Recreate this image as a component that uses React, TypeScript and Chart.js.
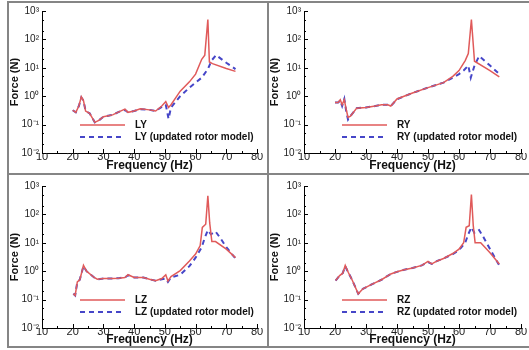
import React, { useEffect, useRef } from "react";
import { Chart, registerables } from "chart.js";

Chart.register(...registerables);

// ---------- data ----------
const LY_FREQ_RED = [20, 21, 22, 22.8, 23.5, 24.2, 25.5, 27.2, 28.5, 30, 33, 35, 37, 38, 40, 42, 45, 47, 49, 50.3, 51.2, 52, 55, 58, 60, 62, 63, 64, 64.5, 65.5, 70, 73];
const LY_RED = [0.32, 0.27, 0.45, 0.95, 0.7, 0.3, 0.25, 0.12, 0.14, 0.19, 0.22, 0.28, 0.35, 0.27, 0.3, 0.36, 0.33, 0.3, 0.45, 0.65, 0.4, 0.5, 1.5, 3.2, 6, 20, 28, 500, 16, 14, 9.5, 7.5];
const LY_FREQ_BLUE = [20, 21, 22, 22.8, 23.5, 24.2, 25.5, 27.2, 28.5, 30, 33, 35, 37, 38, 40, 42, 45, 47, 49, 50.3, 51.2, 52, 55, 58, 60, 62, 64, 65.2, 66.7, 70, 73];
const LY_BLUE = [0.32, 0.27, 0.45, 0.9, 0.7, 0.3, 0.25, 0.12, 0.14, 0.19, 0.22, 0.28, 0.33, 0.27, 0.3, 0.35, 0.33, 0.3, 0.42, 0.5, 0.16, 0.4, 1.0, 2.0, 3.0, 4.5, 9, 18, 28, 15, 9];

const RY_FREQ_RED = [20, 21, 21.7, 22.3, 23, 23.6, 24.2, 25, 27, 30, 33, 35, 37, 38, 40, 45, 50, 55, 58, 60, 62, 63, 64, 65, 70, 73];
const RY_RED = [0.6, 0.6, 0.75, 0.5, 0.75, 0.35, 0.18, 0.2, 0.38, 0.4, 0.45, 0.5, 0.5, 0.45, 0.8, 1.3, 2.0, 3.0, 5.0, 8, 18, 32, 500, 17, 8, 4.8];
const RY_FREQ_BLUE = [20, 21, 21.7, 22.3, 23, 23.6, 24.2, 25, 27, 30, 33, 35, 37, 38, 40, 45, 50, 55, 58, 60, 61.5, 63, 63.8, 65, 66.5, 70, 73];
const RY_BLUE = [0.6, 0.6, 0.7, 0.45, 0.8, 0.3, 0.15, 0.2, 0.38, 0.4, 0.45, 0.5, 0.5, 0.45, 0.78, 1.3, 2.0, 3.0, 4.5, 6, 8, 12, 4.5, 12, 26, 12, 6];

const LZ_FREQ_RED = [20.2, 20.8, 21.5, 22.3, 22.8, 23.5, 24.5, 27, 28, 30, 33, 35, 37, 38, 40, 43, 45, 47, 49, 50.3, 51, 52, 55, 58, 60, 61.5, 62.2, 63.3, 64, 64.6, 65.3, 66.5, 70, 73];
const LZ_RED = [0.16, 0.14, 0.42, 0.5, 0.8, 1.6, 1.0, 0.6, 0.52, 0.55, 0.55, 0.57, 0.6, 0.75, 0.6, 0.6, 0.52, 0.46, 0.55, 0.75, 0.45, 0.65, 1.05, 2.3, 4, 8, 35, 45, 450, 50, 11, 11, 6, 3];
const LZ_FREQ_BLUE = [20.2, 20.8, 21.5, 22.3, 22.8, 23.5, 24.5, 27, 28, 30, 33, 35, 37, 38, 40, 43, 45, 47, 49, 50.3, 51, 52, 55, 58, 60, 62, 63, 64, 65, 66.5, 68, 70, 73];
const LZ_BLUE = [0.16, 0.14, 0.42, 0.5, 0.8, 1.5, 1.0, 0.6, 0.52, 0.55, 0.55, 0.57, 0.6, 0.72, 0.6, 0.6, 0.52, 0.46, 0.52, 0.55, 0.42, 0.6, 0.75, 1.5, 3, 7, 15, 28, 20, 25, 15, 7, 2.8];

const RZ_FREQ_RED = [20.2, 21.5, 22.5, 23.3, 24.3, 25.5, 27.5, 29, 32, 35, 38, 40, 42, 45, 48, 50, 51.2, 53, 55, 58, 60, 61.5, 62.3, 63.3, 64, 64.6, 65.2, 67, 70, 73];
const RZ_RED = [0.47, 0.7, 0.85, 1.6, 0.9, 0.5, 0.16, 0.24, 0.35, 0.5, 0.8, 0.95, 1.1, 1.3, 1.6, 2.2, 1.8, 2.3, 2.8, 4.2, 6, 10, 35, 40, 500, 40, 10, 10, 4.5, 1.8];
const RZ_FREQ_BLUE = [20.2, 21.5, 22.5, 23.3, 24.3, 25.5, 27.5, 29, 32, 35, 38, 40, 42, 45, 48, 50, 51.2, 53, 55, 58, 60, 62, 63, 64, 65, 66.5, 68, 70, 73];
const RZ_BLUE = [0.47, 0.7, 0.85, 1.5, 0.9, 0.5, 0.16, 0.24, 0.35, 0.5, 0.8, 0.95, 1.1, 1.3, 1.6, 2.1, 1.8, 2.3, 2.8, 4.0, 5.5, 10, 20, 35, 22, 28, 15, 6, 1.6];

const Y_TICKS = [0.01, 0.1, 1, 10, 100, 1000];
const Y_TICK_LABELS = ["10\u207B\u00B2", "10\u207B\u00B9", "10\u2070", "10\u00B9", "10\u00B2", "10\u00B3"];
const X_TICK_STEP = 10;

const SERIES_NAMES = ["LY", "RY", "LZ", "RZ"];
const UPDATED_SUFFIX = " (updated rotor model)";

// ---------- styles / layout ----------
const RED = "#e05a5a";
const BLUE = "#4646c8";
const FONT = "'Liberation Sans', Arial, sans-serif";
Chart.defaults.font.family = FONT;

type Box = { x: number; y: number; w: number; h: number; left: number; top: number; right: number; bottom: number };

const BOXES: Box[] = [
  { x: 8, y: 2, w: 260, h: 172, left: 34, top: 8, right: 11, bottom: 21 },
  { x: 268, y: 2, w: 261, h: 172, left: 36, top: 8, right: 8, bottom: 21 },
  { x: 8, y: 174, w: 260, h: 174, left: 34, top: 12, right: 11, bottom: 20 },
  { x: 268, y: 174, w: 261, h: 174, left: 36, top: 12, right: 8, bottom: 20 },
];

const tickMarks = {
  id: "tickMarks",
  afterDraw(chart: any) {
    const { ctx, chartArea, scales } = chart;
    const xs = scales.x;
    const ys = scales.y;
    ctx.save();
    ctx.strokeStyle = "#000";
    ctx.lineWidth = 1;
    ctx.beginPath();
    for (let v = 10; v <= 80; v += 5) {
      const px = Math.round(xs.getPixelForValue(v)) + 0.5;
      const len = v % 10 === 0 ? 4 : 2;
      ctx.moveTo(px, chartArea.bottom);
      ctx.lineTo(px, chartArea.bottom - len);
    }
    for (let d = -2; d <= 2; d++) {
      for (let m = 1; m <= 9; m++) {
        const v = m * Math.pow(10, d);
        const py = Math.round(ys.getPixelForValue(v)) + 0.5;
        const len = m === 1 ? 4 : 2;
        if (m === 1 || m === 2 || m === 5) {
          ctx.moveTo(chartArea.left, py);
          ctx.lineTo(chartArea.left + len, py);
        }
      }
    }
    const top = Math.round(ys.getPixelForValue(1000)) + 0.5;
    ctx.moveTo(chartArea.left, top);
    ctx.lineTo(chartArea.left + 4, top);
    ctx.stroke();
    ctx.restore();
  },
};

const innerLegend = {
  id: "innerLegend",
  afterDraw(chart: any) {
    const { ctx, chartArea } = chart;
    const ds = chart.data.datasets;
    const x0 = chartArea.left + 38;
    const x1 = chartArea.left + 83;
    const tx = chartArea.left + 93;
    const rows = [chartArea.bottom - 28, chartArea.bottom - 16];
    ctx.save();
    ds.forEach((d: any, i: number) => {
      const y = rows[i];
      ctx.strokeStyle = d.borderColor;
      ctx.lineWidth = d.borderWidth;
      ctx.setLineDash(d.borderDash || []);
      ctx.beginPath();
      ctx.moveTo(x0, y);
      ctx.lineTo(x1, y);
      ctx.stroke();
      ctx.setLineDash([]);
      ctx.fillStyle = "#111";
      ctx.font = `bold 10px ${FONT}`;
      ctx.textBaseline = "middle";
      ctx.textAlign = "left";
      ctx.fillText(d.label, tx, y);
    });
    ctx.restore();
  },
};

function Panel(props: { name: string; fr: number[]; vr: number[]; fb: number[]; vb: number[]; box: Box }) {
  const { name, fr, vr, fb, vb, box } = props;
  const ref = useRef<HTMLCanvasElement | null>(null);
  useEffect(() => {
    if (!ref.current) return;
    const chart = new Chart(ref.current, {
      type: "line",
      data: {
        datasets: [
          {
            label: name,
            data: fr.map((x, i) => ({ x, y: vr[i] })),
            borderColor: RED,
            borderWidth: 1.5,
            pointRadius: 0,
            fill: false,
            tension: 0,
          },
          {
            label: name + UPDATED_SUFFIX,
            data: fb.map((x, i) => ({ x, y: vb[i] })),
            borderColor: BLUE,
            borderWidth: 2,
            borderDash: [5, 4],
            pointRadius: 0,
            fill: false,
            tension: 0,
          },
        ],
      },
      options: {
        animation: false,
        responsive: false,
        devicePixelRatio: 1,
        layout: { padding: { top: box.top, right: box.right, left: 0, bottom: 0 } },
        plugins: { legend: { display: false }, tooltip: { enabled: false } },
        scales: {
          x: {
            type: "linear",
            min: 10,
            max: 80,
            grid: { display: false, drawTicks: false },
            border: { display: true, color: "#000", width: 1 },
            ticks: { stepSize: X_TICK_STEP, color: "#222", font: { size: 11 }, padding: -3, maxRotation: 0, autoSkip: false },
            title: { display: true, text: "Frequency (Hz)", color: "#111", font: { size: 12, weight: "bold" }, padding: { top: 0, bottom: 1 } },
            afterFit: (s: any) => {
              s.height = box.bottom;
            },
          },
          y: {
            type: "logarithmic",
            min: 0.01,
            max: 1000,
            grid: { display: false, drawTicks: false },
            border: { display: true, color: "#000", width: 1 },
            afterBuildTicks: (s: any) => {
              s.ticks = Y_TICKS.map((v) => ({ value: v, major: true }));
            },
            ticks: {
              color: "#222",
              font: { size: 10 },
              padding: 3,
              autoSkip: false,
              callback: (v: any) => {
                const i = Y_TICKS.findIndex((t) => Math.abs(Math.log10(t) - Math.log10(Number(v))) < 1e-6);
                return i >= 0 ? Y_TICK_LABELS[i] : "";
              },
            },
            title: { display: true, text: "Force (N)", color: "#111", font: { size: 11, weight: "bold" }, padding: 0 },
            afterFit: (s: any) => {
              s.width = box.left;
            },
          },
        },
      } as any,
      plugins: [tickMarks, innerLegend],
    });
    return () => chart.destroy();
  }, []);
  return (
    <canvas
      ref={ref}
      width={box.w}
      height={box.h}
      style={{ position: "absolute", left: box.x, top: box.y, width: box.w, height: box.h }}
    />
  );
}

const LINE = "#858585";

export default function App() {
  const panels = [
    { fr: LY_FREQ_RED, vr: LY_RED, fb: LY_FREQ_BLUE, vb: LY_BLUE },
    { fr: RY_FREQ_RED, vr: RY_RED, fb: RY_FREQ_BLUE, vb: RY_BLUE },
    { fr: LZ_FREQ_RED, vr: LZ_RED, fb: LZ_FREQ_BLUE, vb: LZ_BLUE },
    { fr: RZ_FREQ_RED, vr: RZ_RED, fb: RZ_FREQ_BLUE, vb: RZ_BLUE },
  ];
  return (
    <div style={{ position: "absolute", left: 0, top: 0, width: 529, height: 350, background: "#fff", overflow: "hidden" }}>
      {panels.map((p, i) => (
        <Panel key={i} name={SERIES_NAMES[i]} fr={p.fr} vr={p.vr} fb={p.fb} vb={p.vb} box={BOXES[i]} />
      ))}
      <div style={{ position: "absolute", left: 7, top: 1, width: 522, height: 2, background: LINE }} />
      <div style={{ position: "absolute", left: 7, top: 1, width: 2, height: 347, background: LINE }} />
      <div style={{ position: "absolute", left: 267, top: 1, width: 2, height: 347, background: LINE }} />
      <div style={{ position: "absolute", left: 7, top: 173, width: 522, height: 2, background: LINE }} />
      <div style={{ position: "absolute", left: 7, top: 346, width: 522, height: 2, background: LINE }} />
    </div>
  );
}
